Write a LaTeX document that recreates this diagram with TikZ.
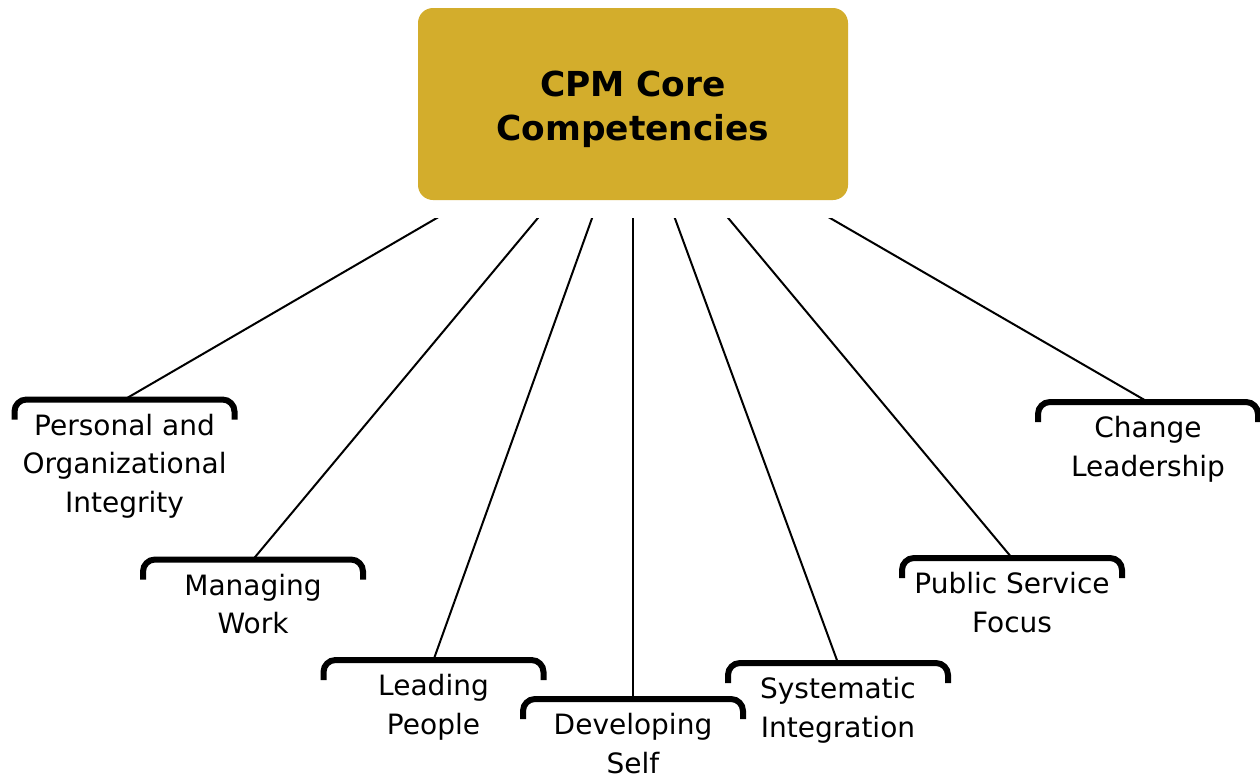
\documentclass[tikz,border=0pt]{standalone}
\usepackage{fontspec}
\setmainfont{DejaVu Sans}
\usetikzlibrary{calc}
\definecolor{gold}{RGB}{211,173,44}
\tikzset{
  hub/.style={fill=gold, rounded corners=7.5pt, minimum width=215pt, minimum height=96pt,
    inner sep=0pt, align=center, font=\bfseries\fontsize{17.2}{22}\selectfont},
  spoke/.style={line width=1pt},
  brace/.style={line width=3pt, rounded corners=6pt},
  lbl/.style={anchor=base, align=center, inner sep=0pt, font=\fontsize{14}{19.25}\selectfont}
}
\begin{document}
\begin{tikzpicture}[x=0.5pt, y=-0.5pt]
\useasboundingbox[fill=white] (0,0) rectangle (1260,778);
\node[hub] (hub) at (633,104) {\rule{0pt}{3pt}\\[-7pt]CPM Core\\Competencies};
\foreach \n/\x/\y/\k/\t in {
  1/124.5/399.5/2/{Personal and\\Organizational\\Integrity},
  2/253/559.5/1/{Managing\\Work},
  3/433.5/660/1/{Leading\\People},
  4/633/699/1/{Developing\\Self},
  5/838/663/1/{Systematic\\Integration},
  6/1012/558/1/{Public Service\\Focus},
  7/1148/402/1/{Change\\Leadership}} {
  \coordinate (b\n) at (\x,\y);
  \draw[brace] ($(b\n)+(-110,20)$) -- ($(b\n)+(-110,0)$) -- ($(b\n)+(110,0)$) -- ($(b\n)+(110,20)$);
  \node[lbl] (t\n) at ($(b\n)+(0,35.5+38.5*\k)$) {\t};
}
\begin{scope}
  \clip (0,218) rectangle (1260,778);
  \foreach \n in {1,...,7} \draw[spoke] (hub.center) -- (b\n);
\end{scope}
\end{tikzpicture}
\end{document}
